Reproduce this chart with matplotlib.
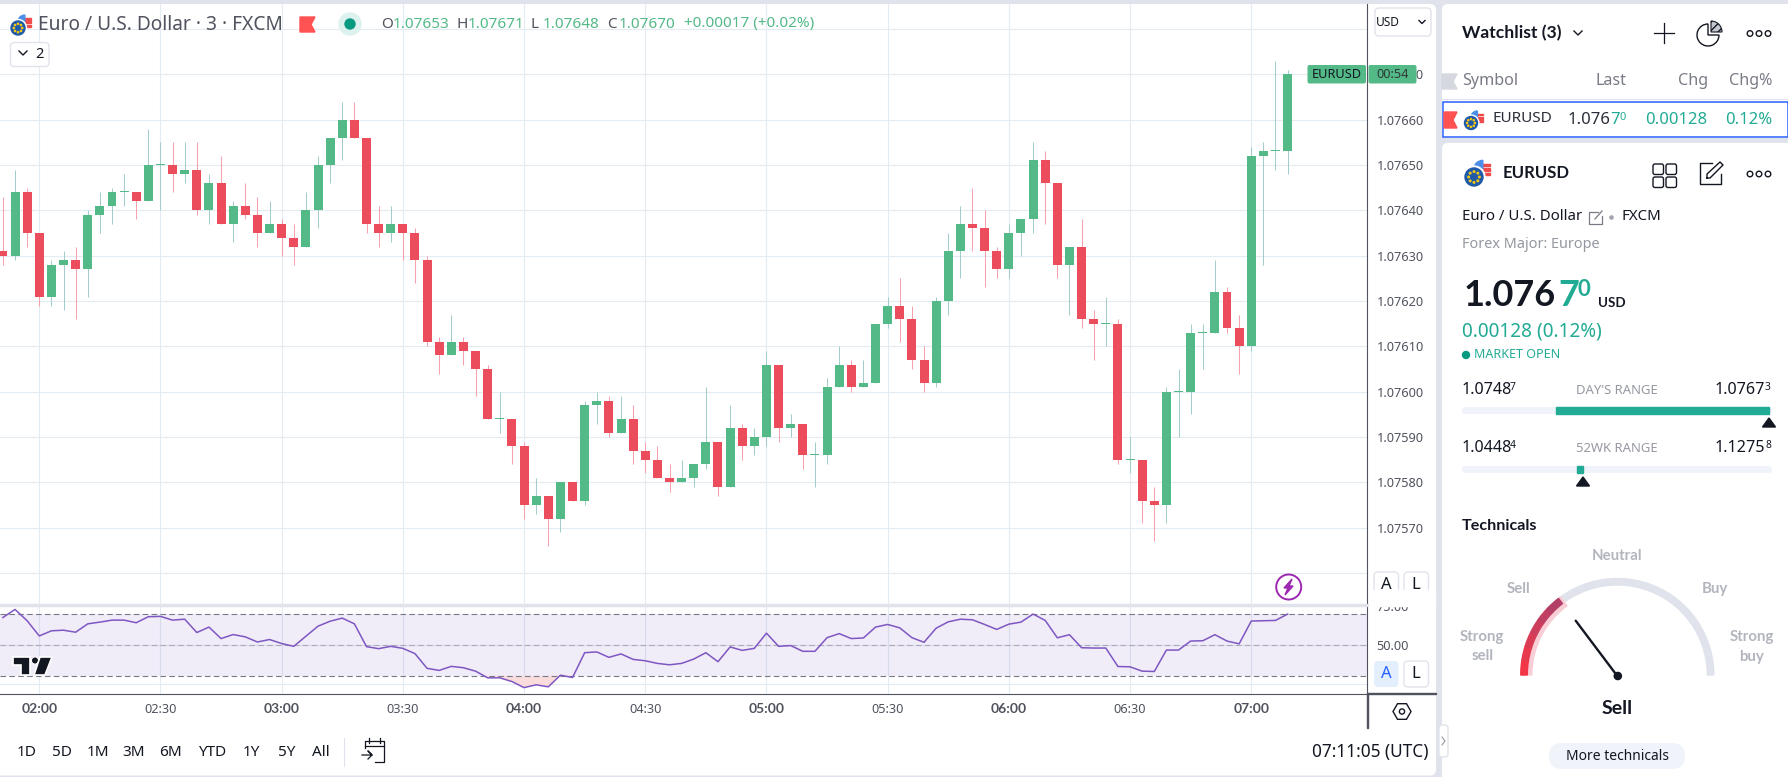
import numpy as np
import matplotlib.pyplot as plt
from matplotlib.patches import Circle, FancyBboxPatch, Polygon, Rectangle, RegularPolygon, Wedge

WIDTH, HEIGHT = 1788, 777
UP, DOWN = '#53B987', '#EB4D5C'
TEAL = '#22AB94'
INK = '#131722'
GRID = '#E3ECF2'

def get_data():
    # open, high, low, close in 1/100000 above 1.07, one row per 3 minute bar
    rows = [
        (631, 643, 628, 630), (630, 649, 629, 644), (644, 645, 632, 635), (635, 635, 619, 621),
        (621, 629, 619, 628), (628, 631, 618, 629), (629, 632, 616, 627), (627, 640, 621, 639),
        (639, 644, 635, 641), (641, 645, 637, 644), (644, 648, 641, 644), (644, 644, 638, 642),
        (642, 658, 642, 650), (650, 655, 640, 650), (650, 655, 644, 648), (648, 655, 646, 649),
        (649, 655, 639, 640), (640, 648, 637, 646), (646, 652, 637, 637), (637, 642, 633, 641),
        (641, 646, 638, 639), (639, 643, 632, 635), (635, 642, 635, 637), (637, 638, 630, 634),
        (634, 637, 628, 632), (632, 644, 632, 640), (640, 652, 636, 650), (650, 656, 646, 656),
        (656, 664, 651, 660), (660, 664, 656, 656), (656, 656, 635, 637), (637, 641, 632, 635),
        (635, 641, 633, 637), (637, 637, 629, 635), (635, 636, 624, 629), (629, 630, 610, 611),
        (611, 612, 604, 608), (608, 617, 608, 611), (611, 612, 606, 609), (609, 609, 599, 605),
        (605, 606, 594, 594), (594, 600, 591, 594), (594, 594, 584, 588), (588, 589, 572, 575),
        (575, 581, 573, 577), (577, 577, 566, 572), (572, 580, 569, 580), (580, 580, 576, 576),
        (576, 598, 575, 597), (597, 600, 593, 598), (598, 599, 590, 591), (591, 599, 591, 594),
        (594, 597, 584, 587), (587, 589, 582, 585), (585, 588, 581, 581), (581, 584, 578, 580),
        (580, 585, 580, 581), (581, 584, 579, 584), (584, 601, 583, 589), (589, 589, 577, 579),
        (579, 597, 579, 592), (592, 593, 585, 588), (588, 592, 586, 590), (590, 609, 588, 606),
        (606, 606, 589, 592), (592, 595, 590, 593), (593, 593, 583, 586), (586, 589, 579, 586),
        (586, 603, 584, 601), (601, 610, 601, 606), (606, 607, 600, 601), (601, 607, 601, 602),
        (602, 615, 602, 615), (615, 621, 614, 619), (619, 625, 611, 616), (616, 619, 605, 607),
        (607, 610, 600, 602), (602, 621, 601, 620), (620, 635, 617, 631), (631, 641, 625, 637),
        (637, 645, 631, 636), (636, 640, 623, 631), (631, 632, 625, 627), (627, 637, 625, 635),
        (635, 638, 630, 638), (638, 655, 635, 651), (651, 653, 637, 646), (646, 646, 625, 628),
        (628, 632, 617, 632), (632, 638, 614, 616), (616, 618, 607, 615), (615, 621, 610, 615),
        (615, 616, 584, 585), (585, 590, 582, 585), (585, 585, 571, 576), (576, 579, 567, 575),
        (575, 601, 571, 600), (600, 605, 590, 600), (600, 615, 595, 613), (613, 615, 605, 613),
        (613, 629, 613, 622), (622, 623, 613, 614), (614, 617, 604, 610), (610, 654, 609, 652),
        (652, 655, 628, 653), (653, 673, 649, 653), (653, 671, 648, 670),
    ]
    rsi = [
        67.6, 72.8, 65.5, 55.7, 59.0, 59.4, 58.1, 63.5, 64.6, 65.9, 65.9, 64.2, 68.1, 68.3, 65.9, 66.5,
        57.9, 61.4, 54.0, 56.6, 55.1, 51.8, 53.4, 50.8, 49.0, 55.5, 62.0, 65.2, 67.2, 63.5, 48.8, 47.5,
        49.0, 47.7, 44.3, 34.8, 33.5, 36.1, 35.2, 33.0, 28.7, 28.7, 26.3, 22.4, 24.2, 22.9, 30.4, 28.9,
        44.9, 45.4, 41.9, 44.1, 40.6, 39.7, 38.0, 37.1, 38.0, 40.8, 44.9, 39.1, 48.6, 46.4, 47.7, 57.5,
        49.0, 49.5, 45.8, 45.8, 54.6, 57.2, 54.0, 54.4, 61.4, 63.1, 60.9, 54.6, 51.6, 60.7, 64.8, 66.5,
        66.1, 63.1, 59.9, 63.3, 64.6, 69.8, 65.7, 54.5, 56.5, 48.1, 47.9, 47.9, 36.0, 35.8, 33.0, 32.8,
        46.6, 46.6, 52.4, 52.6, 56.5, 52.4, 50.6, 65.3, 65.5, 65.7, 69.8,
    ]
    ohlc = 1.07 + np.array(rows) / 100000
    bars = np.arange(-3, len(rows) - 3)  # bar 0 is 02:00
    return bars, ohlc, np.array(rsi)

def pixel_axes(fig, x0, y0, x1, y1, **kwargs):
    return fig.add_axes([x0 / WIDTH, 1 - y1 / HEIGHT, (x1 - x0) / WIDTH, (y1 - y0) / HEIGHT], **kwargs)

def round_box(ax, x0, y0, x1, y1, face='white', edge='none', radius=4, lw=1.0):
    ax.add_patch(FancyBboxPatch((x0, y0), x1 - x0, y1 - y0, boxstyle=f'round,pad=0,rounding_size={radius}',
                                facecolor=face, edgecolor=edge, linewidth=lw))

def bold_text(ax, x, y, s, size, color=INK, ha='left'):
    ax.text(x, y, s, fontsize=size, color=color, ha=ha, va='center', family='Lato', fontweight='bold')

def draw_flag(ax, cx, cy, r):
    ux, uy = cx + r * 0.98, cy - r * 0.85
    ax.add_patch(Circle((ux, uy), r, color='white'))
    for k in (-0.6, -0.1, 0.4):
        ax.add_patch(Rectangle((ux - 0.1 * r, uy + k * r), r * 0.95, r * 0.28, color='#F04B4B'))
    ax.add_patch(Wedge((ux, uy), r, 180, 270, color='#4C8FE8'))
    ax.add_patch(Circle((cx, cy), r * 1.22, color='white'))
    ax.add_patch(Circle((cx, cy), r, color='#1E5AA8'))
    for a in np.arange(0, 360, 45):
        ax.add_patch(Circle((cx + 0.6 * r * np.cos(np.radians(a)), cy + 0.6 * r * np.sin(np.radians(a))),
                            r * 0.09, color='#F5C518'))

def draw_ring_dots(ax, cx, cy):
    for dx in (-9, 0, 9):
        ax.add_patch(Circle((cx + dx, cy), 2.8, facecolor='none', edgecolor=INK, linewidth=1.0))

def chevron(ax, x, y, size=4, color=INK):
    ax.plot([x - size, x, x + size], [y - size / 2, y + size / 2, y - size / 2], color=color, lw=1.0)

def draw_price(fig, bars, ohlc):
    ax = pixel_axes(fig, 0, 4, 1367, 604, zorder=1)
    o, h, l, c = ohlc.T
    rising = c >= o
    ax.vlines(bars[rising], l[rising], h[rising], color='#A3CDCB', lw=0.75)
    ax.vlines(bars[~rising], l[~rising], h[~rising], color='#F7A1AE', lw=0.75)
    body = np.maximum(np.abs(c - o), 0.0000025)
    ax.bar(bars, body, bottom=np.minimum(o, c), width=0.74, color=[UP if r else DOWN for r in rising], linewidth=0, zorder=3)
    ax.set_xlim(-3.24, 109.55)
    ax.set_ylim(1.075532, 1.076855)
    ticks = np.arange(1.0756, 1.07685, 0.0001)
    ax.set_yticks(ticks)
    ax.set_yticklabels([''] + [f'{t:.5f}' for t in ticks[1:-1]] + [''])
    ax.yaxis.tick_right()
    ax.set_xticks(np.arange(0, 101, 10))
    ax.tick_params(axis='x', length=0, labelbottom=False)
    ax.tick_params(axis='y', length=0, pad=7, labelsize=9.2, labelcolor='#50535E')
    ax.grid(True, color=GRID, lw=0.8)
    ax.set_axisbelow(True)
    for side in ('top', 'left', 'bottom'):
        ax.spines[side].set_visible(False)
    ax.spines['right'].set_color('#50535E')
    ax.spines['right'].set_linewidth(0.8)

def draw_rsi(fig, bars, rsi):
    ax = pixel_axes(fig, 0, 606, 1367, 693.5, zorder=1)
    ax.set_xlim(-3.24, 109.55)
    ax.set_ylim(18.6, 75.0)
    ax.set_yticks([25, 50, 75])
    ax.set_yticklabels(['', '50.00', '75.00'])
    ax.yaxis.tick_right()
    ax.set_xticks(np.arange(0, 101, 10))
    hours = ['02:00', '02:30', '03:00', '03:30', '04:00', '04:30', '05:00', '05:30', '06:00', '06:30', '07:00']
    ax.set_xticklabels(hours)
    ax.tick_params(axis='x', length=0, pad=7, labelsize=9.2, labelcolor='#50535E')
    ax.tick_params(axis='y', length=0, pad=7, labelsize=9.2, labelcolor='#50535E')
    for label in ax.get_xticklabels():
        if label.get_text().endswith(':00'):
            label.set_fontfamily('Lato')
            label.set_fontweight('bold')
            label.set_fontsize(10)
    ax.grid(True, color=GRID, lw=0.8)
    ax.set_axisbelow(True)
    ax.axhspan(30, 70, color='#7E57C2', alpha=0.11, linewidth=0, zorder=1)
    ax.fill_between(bars, rsi, 30, where=rsi < 30, interpolate=True, color='#FBDCDC', linewidth=0, zorder=1)
    ax.axhline(70, color='#787B86', lw=0.8, dashes=(5, 3), zorder=2)
    ax.axhline(50, color='#A9A9B8', lw=0.8, dashes=(5, 3), zorder=2)
    ax.axhline(30, color='#787B86', lw=0.8, dashes=(5, 3), zorder=2)
    ax.plot(bars, rsi, color='#7E57C2', lw=1.1, zorder=3)
    for side in ('top', 'left'):
        ax.spines[side].set_visible(False)
    ax.spines['right'].set_color('#50535E')
    ax.spines['bottom'].set_color('#50535E')
    ax.spines['right'].set_linewidth(0.8)
    ax.spines['bottom'].set_linewidth(0.8)

def draw_chart_chrome(ui):
    # header over the plot
    draw_flag(ui, 18, 28, 7)
    ui.text(38, 25, 'Euro / U.S. Dollar · 3 · FXCM', fontsize=13.8, color='#50535E', va='center')
    ui.add_patch(Polygon([(300, 17), (315, 17), (311, 24.5), (315, 32), (300, 32)], color='#FF5252'))
    ui.add_patch(Circle((350, 24), 11, color='#DDF2EF'))
    ui.add_patch(Circle((350, 24), 5, color='#089981'))
    for x, letter, value in [(381, 'O', '1.07653'), (456, 'H', '1.07671'), (531, 'L', '1.07648'), (607, 'C', '1.07670')]:
        ui.text(x, 24, letter, fontsize=11, color='#50535E', va='center')
        ui.text(x + 12, 24, value, fontsize=11, color=UP, va='center')
    ui.text(684, 24, '+0.00017 (+0.02%)', fontsize=11, color=UP, va='center')
    round_box(ui, 10.5, 42.5, 49, 66.5, edge='#E0E3EB')
    chevron(ui, 23, 53)
    ui.text(39, 54, '2', fontsize=10.5, color=INK, ha='center', va='center')

    # right scale pieces
    round_box(ui, 1375, 8, 1431, 36, edge='#E0E3EB')
    ui.text(1388, 22, 'USD', fontsize=8.6, color=INK, va='center', ha='center')
    chevron(ui, 1422, 22, size=3)
    round_box(ui, 1307.5, 65, 1366, 83.5, face=UP, radius=2)
    round_box(ui, 1368.5, 65, 1416.5, 83.5, face=UP, radius=2)
    ui.text(1336.5, 74.5, 'EURUSD', fontsize=9.2, color=INK, ha='center', va='center')
    ui.text(1393, 74.5, '00:54', fontsize=9.2, color='#2E3A36', ha='center', va='center')
    ui.add_patch(Rectangle((1368.5, 590), 66, 15.5, color='white', zorder=2))
    ui.add_patch(Rectangle((0, 604), 1367, 2, color='#E0E3EB'))
    ui.add_patch(Rectangle((1368, 604), 68, 1, color='#E0E3EB'))
    ui.add_patch(Rectangle((1367, 693), 1, 35, color='#50535E'))
    ui.add_patch(Rectangle((1367, 693), 69, 1, color='#50535E'))
    for top, face, text in [(572, 'white', INK), (661, '#E3EFFD', '#2962FF')]:
        round_box(ui, 1374, top, 1398.5, top + 26, face=face, edge='#E0E3EB' if face == 'white' else 'none')
        ui.text(1386, top + 13, 'A', fontsize=12, color=text, ha='center', va='center', zorder=4)
        round_box(ui, 1404, top, 1428.5, top + 26, edge='#E0E3EB')
        ui.text(1416, top + 13, 'L', fontsize=12, color=INK, ha='center', va='center', zorder=4)
    ui.add_patch(RegularPolygon((1402, 711.5), 6, radius=9, orientation=np.pi / 2, facecolor='none', edgecolor=INK, linewidth=1.0))
    ui.add_patch(Circle((1402, 711.5), 2.6, facecolor='none', edgecolor=INK, linewidth=1.0))
    ui.add_patch(Circle((1288.7, 587), 12.5, facecolor='white', edgecolor='#9C27B0', linewidth=1.4))
    ui.add_patch(Polygon([(1292, 579), (1284, 588), (1288, 588), (1285, 595), (1293, 586), (1289, 586)], color='#9C27B0'))

    # logo
    ui.add_patch(Polygon([(13, 657), (30, 657), (30, 675), (21, 675), (21, 665), (13, 665)], facecolor=INK, edgecolor='white', linewidth=1.2))
    ui.add_patch(Circle((35, 660.5), 3.6, facecolor=INK, edgecolor='white', linewidth=0.8))
    ui.add_patch(Polygon([(40, 657), (52, 657), (45, 675), (34, 675)], facecolor=INK, edgecolor='white', linewidth=1.2))

    # range bar
    for x, label in [(26.6, '1D'), (61.5, '5D'), (97.8, '1M'), (134, '3M'), (170.8, '6M'), (211.7, 'YTD'), (251.6, '1Y'), (286.5, '5Y'), (320.5, 'All')]:
        ui.text(x, 752, label, fontsize=11, color=INK, ha='center', va='center')
    ui.plot([344, 344], [738, 766], color='#E0E3EB', lw=0.8)
    ui.plot([365, 365, 384, 384, 375], [748, 741, 741, 762, 762], color=INK, lw=0.9)
    ui.plot([365, 384], [746, 746], color=INK, lw=0.9)
    ui.plot([369, 369], [738, 743], color=INK, lw=0.9)
    ui.plot([380, 380], [738, 743], color=INK, lw=0.9)
    ui.plot([362, 372, 368, 372, 368], [755, 755, 751, 755, 759], color=INK, lw=0.9)
    ui.text(1428, 752, '07:11:05 (UTC)', fontsize=12.4, color=INK, ha='right', va='center')

def draw_panel(ui):
    bold_text(ui, 1462, 33, 'Watchlist (3)', 12.6)
    chevron(ui, 1578, 33)
    ui.plot([1654, 1674], [33, 33], color=INK, lw=0.9)
    ui.plot([1664, 1664], [23, 43], color=INK, lw=0.9)
    ui.add_patch(Wedge((1708, 35), 11, 0, 270, facecolor='none', edgecolor=INK, linewidth=1.0))
    ui.add_patch(Wedge((1711, 32), 11, 270, 360, facecolor='#C6C8CF', edgecolor=INK, linewidth=0.8, hatch='////'))
    draw_ring_dots(ui, 1759, 33.5)

    ui.add_patch(Polygon([(1442, 74), (1457, 74), (1453, 81.5), (1457, 89), (1442, 89)], color='#D6D8DF'))
    ui.text(1462, 81, 'Symbol', fontsize=11.6, color='#787B86', va='center')
    ui.text(1626.7, 81, 'Last', fontsize=11.6, color='#787B86', ha='right', va='center')
    ui.text(1707.7, 81, 'Chg', fontsize=11.6, color='#787B86', ha='right', va='center')
    ui.text(1772.3, 81, 'Chg%', fontsize=11.6, color='#787B86', ha='right', va='center')
    ui.plot([1442, 1788], [98.5, 98.5], color='#E0E3EB', lw=0.8)
    ui.add_patch(Rectangle((1442.5, 102), 345.5, 35, facecolor='white', edgecolor='#2962FF', linewidth=1.1))
    ui.add_patch(Polygon([(1444, 112), (1457, 112), (1453, 120), (1457, 128), (1444, 128)], color='#FF5252'))
    draw_flag(ui, 1471, 123, 6.5)
    ui.text(1492.5, 119, 'EURUSD', fontsize=11, color='#2A2E39', va='center')
    ui.text(1568, 120, '1.076', fontsize=12, color='#2A2E39', va='center')
    ui.text(1610, 120, '7', fontsize=12, color=TEAL, va='center')
    ui.text(1619, 118, '0', fontsize=8, color=TEAL, va='center')
    ui.text(1707.7, 120, '0.00128', fontsize=12, color=TEAL, ha='right', va='center')
    ui.text(1772.3, 120, '0.12%', fontsize=12, color=TEAL, ha='right', va='center')

    draw_flag(ui, 1474, 177, 9)
    bold_text(ui, 1502.5, 172.5, 'EURUSD', 12)
    for x, y in [(1653, 164), (1666, 164), (1653, 177), (1666, 177)]:
        round_box(ui, x, y, x + 10.5, y + 10.5, face='none', edge=INK, radius=2)
    ui.plot([1712, 1700, 1700, 1721, 1721], [163, 163, 184, 184, 174], color=INK, lw=1.0)
    ui.plot([1707, 1707, 1720, 1723, 1710, 1707], [178, 174, 162, 165, 178, 178], color=INK, lw=1.0)
    draw_ring_dots(ui, 1759, 174)

    ui.text(1462, 217, 'Euro / U.S. Dollar', fontsize=10.8, color=INK, va='center')
    ui.plot([1598, 1589, 1589, 1602, 1602], [212, 212, 224, 224, 216], color='#787B86', lw=0.9)
    ui.plot([1595, 1602], [219, 211], color='#787B86', lw=0.9)
    ui.add_patch(Circle((1611.5, 217.5), 1.6, color='#A3A6AF'))
    ui.text(1621.5, 217, 'FXCM', fontsize=10.8, color=INK, va='center')
    ui.text(1462, 244, 'Forex Major: Europe', fontsize=10.4, color='#9598A1', va='center')

    bold_text(ui, 1464, 295, '1.076', 26)
    bold_text(ui, 1558, 295, '7', 26, color=TEAL)
    bold_text(ui, 1577, 289, '0', 16, color=TEAL)
    bold_text(ui, 1598, 303, 'USD', 9.6)
    ui.text(1462, 332, '0.00128 (0.12%)', fontsize=13.7, color=TEAL, va='center')
    ui.add_patch(Circle((1466, 355), 3.5, color='#089981'))
    ui.text(1474, 355, 'MARKET OPEN', fontsize=9, color=TEAL, va='center')

    # the two range rows
    for y, low, low_tail, name, high, high_tail in [(390, '1.0748', '7', "DAY'S RANGE", '1.0767', '3'), (448, '1.0448', '4', '52WK RANGE', '1.1275', '8')]:
        ui.text(1462, y, low, fontsize=11.6, color=INK, va='center')
        ui.text(1510, y - 2, low_tail, fontsize=7.4, color=INK, va='center')
        ui.text(1616.7, y, name, fontsize=9.4, color='#9598A1', ha='center', va='center')
        ui.text(1765, y, high, fontsize=11.6, color=INK, ha='right', va='center')
        ui.text(1765, y - 2, high_tail, fontsize=7.4, color=INK, va='center')
    round_box(ui, 1462, 407, 1772, 414, face='#F0F3FA', radius=3)
    ui.add_patch(Rectangle((1556, 407), 213, 7, color=TEAL))
    ui.add_patch(Polygon([(1769, 418), (1775.5, 427), (1762.5, 427)], color=INK))
    round_box(ui, 1462, 466, 1772, 473, face='#F0F3FA', radius=3)
    ui.add_patch(Rectangle((1577, 466), 6, 7, color=TEAL))
    ui.add_patch(Polygon([(1583, 477), (1589.5, 486), (1576.5, 486)], color=INK))

    bold_text(ui, 1462, 526.5, 'Technicals', 11.6)
    cx, cy = 1617.3, 675
    ui.add_patch(Wedge((cx, cy), 96.5, 232, 360, width=6.5, color='#E0E3EB'))
    ui.add_patch(Wedge((cx, cy), 96.5, 180, 234, width=11, color='#F8CDD5'))
    shades = ['#F23645', '#E73A4E', '#DA3C55', '#CD3D5C', '#BF3E62', '#B33F67']
    for k, shade in enumerate(shades):
        ui.add_patch(Wedge((cx, cy), 96.5, 180 + k * 8.7, 180 + (k + 1) * 8.7 + 0.3, width=6.5, color=shade))
    ui.plot([cx, 1575.7], [676, 620.7], color=INK, lw=1.7, solid_capstyle='round')
    ui.add_patch(Circle((cx + 0.5, 676), 3.6, color=INK))
    bold_text(ui, 1617, 556.5, 'Neutral', 10.8, color='#B2B5BE', ha='center')
    bold_text(ui, 1519, 589, 'Sell', 10.8, color='#B2B5BE', ha='center')
    bold_text(ui, 1715, 589, 'Buy', 10.8, color='#B2B5BE', ha='center')
    bold_text(ui, 1482.3, 636.5, 'Strong', 10.8, color='#B2B5BE', ha='center')
    bold_text(ui, 1482.3, 656.5, 'sell', 10.8, color='#B2B5BE', ha='center')
    bold_text(ui, 1751.7, 636.5, 'Strong', 10.8, color='#B2B5BE', ha='center')
    bold_text(ui, 1751.7, 656.5, 'buy', 10.8, color='#B2B5BE', ha='center')
    bold_text(ui, 1617, 708, 'Sell', 14, ha='center')
    round_box(ui, 1549, 743, 1685, 769, face='#F0F3FA', radius=13)
    ui.text(1617, 756, 'More technicals', fontsize=10, color=INK, ha='center', va='center')

    round_box(ui, 1439, 725, 1448, 757, edge='#E0E3EB', radius=3)
    ui.plot([1442, 1445, 1442], [737, 741, 745], color='#9598A1', lw=0.8)

def make_figure():
    plt.rcParams['font.family'] = ['Noto Sans', 'DejaVu Sans']
    bars, ohlc, rsi = get_data()

    fig = plt.figure(figsize=(WIDTH / 100, HEIGHT / 100), dpi=100, facecolor='#E0E3EB')
    back = pixel_axes(fig, 0, 0, WIDTH, HEIGHT, zorder=0)
    back.set_xlim(0, WIDTH)
    back.set_ylim(HEIGHT, 0)
    back.axis('off')
    round_box(back, -10, 4, 1436, 775.5, radius=6)
    round_box(back, 1442, 4, 1800, 138, radius=6)
    round_box(back, 1442, 143, 1800, 790, radius=6)

    draw_price(fig, bars, ohlc)
    draw_rsi(fig, bars, rsi)

    ui = pixel_axes(fig, 0, 0, WIDTH, HEIGHT, zorder=5)
    ui.set_xlim(0, WIDTH)
    ui.set_ylim(HEIGHT, 0)
    ui.axis('off')
    draw_chart_chrome(ui)
    draw_panel(ui)

    fig.savefig('out.png', dpi=100, facecolor=fig.get_facecolor())

if __name__ == "__main__":
    make_figure()
